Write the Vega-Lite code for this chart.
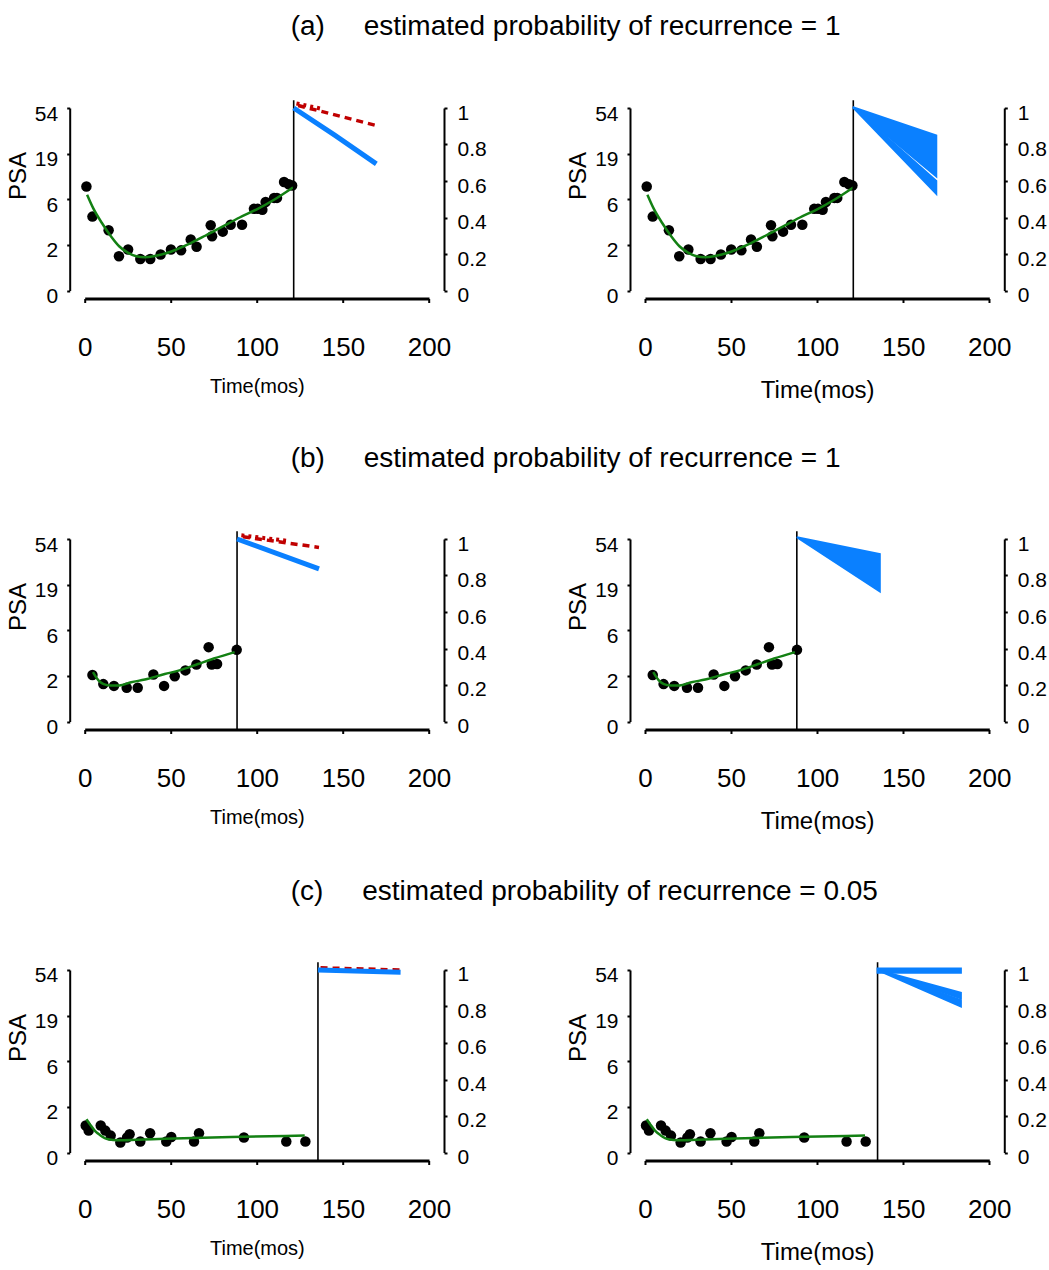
{
  "$schema": "https://vega.github.io/schema/vega-lite/v6.json",
  "background": "white",
  "padding": {"left": 6.7, "top": 13, "right": 0, "bottom": 0},
  "autosize": {"type": "pad"},
  "config": {
    "view": {"stroke": null},
    "font": "Liberation Sans",
    "axis": {"grid": false, "labelFlush": false, "labelOverlap": false, "domainColor": "black", "tickColor": "black", "labelColor": "black", "titleColor": "black", "labelFont": "Liberation Sans", "titleFont": "Liberation Sans", "titleFontWeight": "normal"},
    "title": {"font": "Liberation Sans", "fontWeight": "normal", "color": "black"}
  },
  "datasets": {
    "pts": [
      {"row": "a", "t": 1.0, "L": 2.28}, {"row": "a", "t": 4.5, "L": 1.62}, {"row": "a", "t": 13.9, "L": 1.32}, {"row": "a", "t": 19.9, "L": 0.75}, {"row": "a", "t": 25.2, "L": 0.9}, {"row": "a", "t": 32.3, "L": 0.69}, {"row": "a", "t": 38.1, "L": 0.69}, {"row": "a", "t": 44.1, "L": 0.79}, {"row": "a", "t": 50.1, "L": 0.9}, {"row": "a", "t": 56.0, "L": 0.88}, {"row": "a", "t": 61.6, "L": 1.12}, {"row": "a", "t": 65.0, "L": 0.96}, {"row": "a", "t": 73.2, "L": 1.43}, {"row": "a", "t": 74.0, "L": 1.19}, {"row": "a", "t": 80.2, "L": 1.29}, {"row": "a", "t": 84.8, "L": 1.44}, {"row": "a", "t": 91.4, "L": 1.44}, {"row": "a", "t": 98.3, "L": 1.79}, {"row": "a", "t": 100.5, "L": 1.79}, {"row": "a", "t": 103.2, "L": 1.77}, {"row": "a", "t": 105.1, "L": 1.94}, {"row": "a", "t": 110.0, "L": 2.03}, {"row": "a", "t": 111.7, "L": 2.03}, {"row": "a", "t": 115.8, "L": 2.38}, {"row": "a", "t": 118.5, "L": 2.33}, {"row": "a", "t": 120.5, "L": 2.3},
      {"row": "b", "t": 4.5, "L": 1.02}, {"row": "b", "t": 10.8, "L": 0.82}, {"row": "b", "t": 17.0, "L": 0.78}, {"row": "b", "t": 24.4, "L": 0.74}, {"row": "b", "t": 30.8, "L": 0.74}, {"row": "b", "t": 39.9, "L": 1.03}, {"row": "b", "t": 46.1, "L": 0.78}, {"row": "b", "t": 52.3, "L": 0.99}, {"row": "b", "t": 58.5, "L": 1.12}, {"row": "b", "t": 64.9, "L": 1.25}, {"row": "b", "t": 72.0, "L": 1.63}, {"row": "b", "t": 73.8, "L": 1.25}, {"row": "b", "t": 76.9, "L": 1.26}, {"row": "b", "t": 88.3, "L": 1.57},
      {"row": "c", "t": 0.6, "L": 0.59}, {"row": "c", "t": 2.3, "L": 0.48}, {"row": "c", "t": 9.3, "L": 0.59}, {"row": "c", "t": 12.0, "L": 0.48}, {"row": "c", "t": 15.1, "L": 0.37}, {"row": "c", "t": 20.7, "L": 0.22}, {"row": "c", "t": 24.6, "L": 0.33}, {"row": "c", "t": 26.1, "L": 0.4}, {"row": "c", "t": 32.3, "L": 0.24}, {"row": "c", "t": 38.0, "L": 0.42}, {"row": "c", "t": 47.4, "L": 0.24}, {"row": "c", "t": 50.3, "L": 0.34}, {"row": "c", "t": 63.5, "L": 0.24}, {"row": "c", "t": 66.4, "L": 0.42}, {"row": "c", "t": 92.5, "L": 0.33}, {"row": "c", "t": 117.1, "L": 0.24}, {"row": "c", "t": 128.2, "L": 0.24}
    ],
    "fit": [
      {"row": "a", "t": 1.4, "L": 2.1}, {"row": "a", "t": 5, "L": 1.8}, {"row": "a", "t": 10, "L": 1.48}, {"row": "a", "t": 15, "L": 1.2}, {"row": "a", "t": 20, "L": 0.97}, {"row": "a", "t": 25, "L": 0.83}, {"row": "a", "t": 30, "L": 0.75}, {"row": "a", "t": 35, "L": 0.73}, {"row": "a", "t": 40, "L": 0.75}, {"row": "a", "t": 50, "L": 0.85}, {"row": "a", "t": 60, "L": 1.01}, {"row": "a", "t": 70, "L": 1.2}, {"row": "a", "t": 80, "L": 1.4}, {"row": "a", "t": 90, "L": 1.6}, {"row": "a", "t": 100, "L": 1.78}, {"row": "a", "t": 110, "L": 1.99}, {"row": "a", "t": 121, "L": 2.26},
      {"row": "b", "t": 4.8, "L": 1.08}, {"row": "b", "t": 8, "L": 0.9}, {"row": "b", "t": 11, "L": 0.82}, {"row": "b", "t": 15, "L": 0.79}, {"row": "b", "t": 20, "L": 0.79}, {"row": "b", "t": 27, "L": 0.86}, {"row": "b", "t": 35, "L": 0.92}, {"row": "b", "t": 46.5, "L": 1.04}, {"row": "b", "t": 55, "L": 1.12}, {"row": "b", "t": 65.8, "L": 1.26}, {"row": "b", "t": 75, "L": 1.38}, {"row": "b", "t": 87.1, "L": 1.52},
      {"row": "c", "t": 1.0, "L": 0.73}, {"row": "c", "t": 3, "L": 0.62}, {"row": "c", "t": 5.8, "L": 0.48}, {"row": "c", "t": 9, "L": 0.38}, {"row": "c", "t": 13.6, "L": 0.29}, {"row": "c", "t": 19.4, "L": 0.27}, {"row": "c", "t": 30, "L": 0.28}, {"row": "c", "t": 46.5, "L": 0.3}, {"row": "c", "t": 85.2, "L": 0.34}, {"row": "c", "t": 127.8, "L": 0.37}
    ],
    "stops": [
      {"row": "a", "side": "L", "t": 121.4}, {"row": "a", "side": "R", "t": 121.0},
      {"row": "b", "side": "L", "t": 88.5}, {"row": "b", "side": "R", "t": 88.2},
      {"row": "c", "side": "L", "t": 135.5}, {"row": "c", "side": "R", "t": 135.1}
    ],
    "prob": [
      {"row": "a", "id": "a-blue", "kind": "blue", "t": 121.4, "p": 1.0}, {"row": "a", "id": "a-blue", "kind": "blue", "t": 145, "p": 0.853}, {"row": "a", "id": "a-blue", "kind": "blue", "t": 169.4, "p": 0.694},
      {"row": "a", "id": "a-red1", "kind": "red1", "t": 124, "p": 1.014}, {"row": "a", "id": "a-red1", "kind": "red1", "t": 169.4, "p": 0.904},
      {"row": "a", "id": "a-red2", "kind": "red2", "t": 123, "p": 1.025}, {"row": "a", "id": "a-red2", "kind": "red2", "t": 138, "p": 0.995},
      {"row": "b", "id": "b-blue", "kind": "blue", "t": 88.5, "p": 1.0}, {"row": "b", "id": "b-blue", "kind": "blue", "t": 136.1, "p": 0.836},
      {"row": "b", "id": "b-red1", "kind": "red1", "t": 92, "p": 1.012}, {"row": "b", "id": "b-red1", "kind": "red1", "t": 136.1, "p": 0.954},
      {"row": "b", "id": "b-red2", "kind": "red2", "t": 91, "p": 1.02}, {"row": "b", "id": "b-red2", "kind": "red2", "t": 118, "p": 0.99},
      {"row": "c", "id": "c-red1", "kind": "red1", "t": 137, "p": 1.012}, {"row": "c", "id": "c-red1", "kind": "red1", "t": 183.5, "p": 1.0},
      {"row": "c", "id": "c-blue", "kind": "blue", "t": 135.5, "p": 1.0}, {"row": "c", "id": "c-blue", "kind": "blue", "t": 183.5, "p": 0.988}
    ],
    "fan": [
      {"row": "a", "id": "a1", "t": 120.8, "lo": 1.004, "hi": 1.004}, {"row": "a", "id": "a1", "t": 169.2, "lo": 0.625, "hi": 0.849},
      {"row": "a", "id": "a2", "t": 120.8, "lo": 1.004, "hi": 1.004}, {"row": "a", "id": "a2", "t": 169.2, "lo": 0.53, "hi": 0.6},
      {"row": "b", "id": "b1", "t": 88.2, "lo": 1.01, "hi": 1.01}, {"row": "b", "id": "b1", "t": 136.4, "lo": 0.713, "hi": 0.918},
      {"row": "c", "id": "c1", "t": 135.1, "lo": 0.985, "hi": 1.008}, {"row": "c", "id": "c1", "t": 183.5, "lo": 0.985, "hi": 1.008},
      {"row": "c", "id": "c2", "t": 135.1, "lo": 1.0, "hi": 1.0}, {"row": "c", "id": "c2", "t": 183.5, "lo": 0.845, "hi": 0.875},
      {"row": "c", "id": "c3", "t": 135.1, "lo": 1.0, "hi": 1.0}, {"row": "c", "id": "c3", "t": 183.5, "lo": 0.8, "hi": 0.835}
    ]
  },
  "vconcat": [
    {
      "hconcat": [
        {
          "width": 344.3, "height": 182.5,
          "title": {"text": "(a)\u00a0\u00a0\u00a0\u00a0\u00a0estimated probability of recurrence = 1", "anchor": "start", "frame": "group", "dx": 206, "fontSize": 28, "offset": 54},
          "encoding": {"x": {"field": "t", "type": "quantitative", "scale": {"domain": [0, 200], "nice": false}, "axis": {"values": [0, 50, 100, 150, 200], "title": "Time(mos)", "offset": 8, "domainWidth": 3, "tickSize": 4, "tickWidth": 2, "labelFontSize": 26, "labelPadding": 32, "titleFontSize": 20, "titlePadding": 16}}},
          "layer": [
            {"layer": [
              {"data": {"name": "pts"}, "transform": [{"filter": "datum.row == 'a'"}], "mark": {"type": "point", "filled": true, "shape": "circle", "color": "black", "opacity": 1, "size": 110}, "encoding": {"y": {"field": "L", "type": "quantitative", "scale": {"domain": [0, 4], "nice": false}, "axis": {"values": [0, 1, 2, 3, 4], "labelExpr": "datum.value == 0 ? '0' : datum.value == 1 ? '2' : datum.value == 2 ? '6' : datum.value == 3 ? '19' : '54'", "title": "PSA", "offset": 15, "domainWidth": 2, "tickSize": 3, "tickWidth": 2, "labelFontSize": 21, "labelPadding": 9, "labelOffset": 6, "titleFontSize": 24, "titleX": -39, "titleY": 67.5, "titleAngle": -90}}}},
              {"data": {"name": "fit"}, "transform": [{"filter": "datum.row == 'a'"}], "mark": {"type": "line", "color": "#138013", "strokeWidth": 2.5, "interpolate": "monotone"}, "encoding": {"y": {"field": "L", "type": "quantitative"}}},
              {"data": {"name": "stops"}, "transform": [{"filter": "datum.row == 'a' && datum.side == 'L'"}], "mark": {"type": "rule", "color": "black", "strokeWidth": 1.6}, "encoding": {"y": {"datum": -0.18, "type": "quantitative"}, "y2": {"datum": 4.17}}}
            ]},
            {"layer": [
              {"data": {"name": "prob"}, "transform": [{"filter": "datum.row == 'a' && datum.kind == 'red1'"}], "mark": {"type": "line", "color": "#c00000", "strokeWidth": 3.5, "strokeDash": [7, 5]}, "encoding": {"y": {"field": "p", "type": "quantitative", "scale": {"domain": [0, 1], "nice": false}, "axis": {"orient": "right", "values": [0, 0.2, 0.4, 0.6, 0.8, 1], "format": "~g", "title": null, "offset": 15, "domainWidth": 2, "tickSize": 3, "tickWidth": 2, "labelFontSize": 21, "labelPadding": 10, "labelOffset": 5}}}},
              {"data": {"name": "prob"}, "transform": [{"filter": "datum.row == 'a' && datum.kind == 'red2'"}], "mark": {"type": "line", "color": "#c00000", "strokeWidth": 4, "strokeDash": [3, 4]}, "encoding": {"y": {"field": "p", "type": "quantitative", "axis": {"orient": "right", "values": [0, 0.2, 0.4, 0.6, 0.8, 1], "format": "~g", "title": null, "offset": 15, "domainWidth": 2, "tickSize": 3, "tickWidth": 2, "labelFontSize": 21, "labelPadding": 10, "labelOffset": 5}}}},
              {"data": {"name": "prob"}, "transform": [{"filter": "datum.row == 'a' && datum.kind == 'blue'"}], "mark": {"type": "line", "color": "#0a80ff", "strokeWidth": 5}, "encoding": {"y": {"field": "p", "type": "quantitative", "axis": {"orient": "right", "values": [0, 0.2, 0.4, 0.6, 0.8, 1], "format": "~g", "title": null, "offset": 15, "domainWidth": 2, "tickSize": 3, "tickWidth": 2, "labelFontSize": 21, "labelPadding": 10, "labelOffset": 5}}}}
            ]}
          ],
          "resolve": {"scale": {"y": "independent"}}
        },
        {
          "width": 344.3, "height": 182.5,
          "encoding": {"x": {"field": "t", "type": "quantitative", "scale": {"domain": [0, 200], "nice": false}, "axis": {"values": [0, 50, 100, 150, 200], "title": "Time(mos)", "offset": 8, "domainWidth": 3, "tickSize": 4, "tickWidth": 2, "labelFontSize": 26, "labelPadding": 32, "titleFontSize": 24, "titlePadding": 18}}},
          "layer": [
            {"layer": [
              {"data": {"name": "pts"}, "transform": [{"filter": "datum.row == 'a'"}], "mark": {"type": "point", "filled": true, "shape": "circle", "color": "black", "opacity": 1, "size": 110}, "encoding": {"y": {"field": "L", "type": "quantitative", "scale": {"domain": [0, 4], "nice": false}, "axis": {"values": [0, 1, 2, 3, 4], "labelExpr": "datum.value == 0 ? '0' : datum.value == 1 ? '2' : datum.value == 2 ? '6' : datum.value == 3 ? '19' : '54'", "title": "PSA", "offset": 15, "domainWidth": 2, "tickSize": 3, "tickWidth": 2, "labelFontSize": 21, "labelPadding": 9, "labelOffset": 6, "titleFontSize": 24, "titleX": -39, "titleY": 67.5, "titleAngle": -90}}}},
              {"data": {"name": "fit"}, "transform": [{"filter": "datum.row == 'a'"}], "mark": {"type": "line", "color": "#138013", "strokeWidth": 2.5, "interpolate": "monotone"}, "encoding": {"y": {"field": "L", "type": "quantitative"}}},
              {"data": {"name": "stops"}, "transform": [{"filter": "datum.row == 'a' && datum.side == 'R'"}], "mark": {"type": "rule", "color": "black", "strokeWidth": 1.6}, "encoding": {"y": {"datum": -0.18, "type": "quantitative"}, "y2": {"datum": 4.17}}}
            ]},
            {"layer": [
              {"data": {"name": "fan"}, "transform": [{"filter": "datum.row == 'a'"}], "mark": {"type": "area", "color": "#0a80ff", "stroke": "#0a80ff", "strokeWidth": 2, "opacity": 1}, "encoding": {"detail": {"field": "id"}, "y": {"field": "lo", "type": "quantitative", "scale": {"domain": [0, 1], "nice": false}, "axis": {"orient": "right", "values": [0, 0.2, 0.4, 0.6, 0.8, 1], "format": "~g", "title": null, "offset": 15, "domainWidth": 2, "tickSize": 3, "tickWidth": 2, "labelFontSize": 21, "labelPadding": 10, "labelOffset": 5}}, "y2": {"field": "hi"}}}
            ]}
          ],
          "resolve": {"scale": {"y": "independent"}}
        }
      ],
      "spacing": 215.3, "bounds": "flush"
    },
    {
      "hconcat": [
        {
          "width": 344.3, "height": 182.5,
          "title": {"text": "(b)\u00a0\u00a0\u00a0\u00a0\u00a0estimated probability of recurrence = 1", "anchor": "start", "frame": "group", "dx": 206, "fontSize": 28, "offset": 54},
          "encoding": {"x": {"field": "t", "type": "quantitative", "scale": {"domain": [0, 200], "nice": false}, "axis": {"values": [0, 50, 100, 150, 200], "title": "Time(mos)", "offset": 8, "domainWidth": 3, "tickSize": 4, "tickWidth": 2, "labelFontSize": 26, "labelPadding": 32, "titleFontSize": 20, "titlePadding": 16}}},
          "layer": [
            {"layer": [
              {"data": {"name": "pts"}, "transform": [{"filter": "datum.row == 'b'"}], "mark": {"type": "point", "filled": true, "shape": "circle", "color": "black", "opacity": 1, "size": 110}, "encoding": {"y": {"field": "L", "type": "quantitative", "scale": {"domain": [0, 4], "nice": false}, "axis": {"values": [0, 1, 2, 3, 4], "labelExpr": "datum.value == 0 ? '0' : datum.value == 1 ? '2' : datum.value == 2 ? '6' : datum.value == 3 ? '19' : '54'", "title": "PSA", "offset": 15, "domainWidth": 2, "tickSize": 3, "tickWidth": 2, "labelFontSize": 21, "labelPadding": 9, "labelOffset": 6, "titleFontSize": 24, "titleX": -39, "titleY": 67.5, "titleAngle": -90}}}},
              {"data": {"name": "fit"}, "transform": [{"filter": "datum.row == 'b'"}], "mark": {"type": "line", "color": "#138013", "strokeWidth": 2.5, "interpolate": "monotone"}, "encoding": {"y": {"field": "L", "type": "quantitative"}}},
              {"data": {"name": "stops"}, "transform": [{"filter": "datum.row == 'b' && datum.side == 'L'"}], "mark": {"type": "rule", "color": "black", "strokeWidth": 1.6}, "encoding": {"y": {"datum": -0.18, "type": "quantitative"}, "y2": {"datum": 4.17}}}
            ]},
            {"layer": [
              {"data": {"name": "prob"}, "transform": [{"filter": "datum.row == 'b' && datum.kind == 'red1'"}], "mark": {"type": "line", "color": "#c00000", "strokeWidth": 3.5, "strokeDash": [7, 5]}, "encoding": {"y": {"field": "p", "type": "quantitative", "scale": {"domain": [0, 1], "nice": false}, "axis": {"orient": "right", "values": [0, 0.2, 0.4, 0.6, 0.8, 1], "format": "~g", "title": null, "offset": 15, "domainWidth": 2, "tickSize": 3, "tickWidth": 2, "labelFontSize": 21, "labelPadding": 10, "labelOffset": 5}}}},
              {"data": {"name": "prob"}, "transform": [{"filter": "datum.row == 'b' && datum.kind == 'red2'"}], "mark": {"type": "line", "color": "#c00000", "strokeWidth": 4, "strokeDash": [3, 4]}, "encoding": {"y": {"field": "p", "type": "quantitative", "axis": {"orient": "right", "values": [0, 0.2, 0.4, 0.6, 0.8, 1], "format": "~g", "title": null, "offset": 15, "domainWidth": 2, "tickSize": 3, "tickWidth": 2, "labelFontSize": 21, "labelPadding": 10, "labelOffset": 5}}}},
              {"data": {"name": "prob"}, "transform": [{"filter": "datum.row == 'b' && datum.kind == 'blue'"}], "mark": {"type": "line", "color": "#0a80ff", "strokeWidth": 5}, "encoding": {"y": {"field": "p", "type": "quantitative", "axis": {"orient": "right", "values": [0, 0.2, 0.4, 0.6, 0.8, 1], "format": "~g", "title": null, "offset": 15, "domainWidth": 2, "tickSize": 3, "tickWidth": 2, "labelFontSize": 21, "labelPadding": 10, "labelOffset": 5}}}}
            ]}
          ],
          "resolve": {"scale": {"y": "independent"}}
        },
        {
          "width": 344.3, "height": 182.5,
          "encoding": {"x": {"field": "t", "type": "quantitative", "scale": {"domain": [0, 200], "nice": false}, "axis": {"values": [0, 50, 100, 150, 200], "title": "Time(mos)", "offset": 8, "domainWidth": 3, "tickSize": 4, "tickWidth": 2, "labelFontSize": 26, "labelPadding": 32, "titleFontSize": 24, "titlePadding": 18}}},
          "layer": [
            {"layer": [
              {"data": {"name": "pts"}, "transform": [{"filter": "datum.row == 'b'"}], "mark": {"type": "point", "filled": true, "shape": "circle", "color": "black", "opacity": 1, "size": 110}, "encoding": {"y": {"field": "L", "type": "quantitative", "scale": {"domain": [0, 4], "nice": false}, "axis": {"values": [0, 1, 2, 3, 4], "labelExpr": "datum.value == 0 ? '0' : datum.value == 1 ? '2' : datum.value == 2 ? '6' : datum.value == 3 ? '19' : '54'", "title": "PSA", "offset": 15, "domainWidth": 2, "tickSize": 3, "tickWidth": 2, "labelFontSize": 21, "labelPadding": 9, "labelOffset": 6, "titleFontSize": 24, "titleX": -39, "titleY": 67.5, "titleAngle": -90}}}},
              {"data": {"name": "fit"}, "transform": [{"filter": "datum.row == 'b'"}], "mark": {"type": "line", "color": "#138013", "strokeWidth": 2.5, "interpolate": "monotone"}, "encoding": {"y": {"field": "L", "type": "quantitative"}}},
              {"data": {"name": "stops"}, "transform": [{"filter": "datum.row == 'b' && datum.side == 'R'"}], "mark": {"type": "rule", "color": "black", "strokeWidth": 1.6}, "encoding": {"y": {"datum": -0.18, "type": "quantitative"}, "y2": {"datum": 4.17}}}
            ]},
            {"layer": [
              {"data": {"name": "fan"}, "transform": [{"filter": "datum.row == 'b'"}], "mark": {"type": "area", "color": "#0a80ff", "stroke": "#0a80ff", "strokeWidth": 2, "opacity": 1}, "encoding": {"detail": {"field": "id"}, "y": {"field": "lo", "type": "quantitative", "scale": {"domain": [0, 1], "nice": false}, "axis": {"orient": "right", "values": [0, 0.2, 0.4, 0.6, 0.8, 1], "format": "~g", "title": null, "offset": 15, "domainWidth": 2, "tickSize": 3, "tickWidth": 2, "labelFontSize": 21, "labelPadding": 10, "labelOffset": 5}}, "y2": {"field": "hi"}}}
            ]}
          ],
          "resolve": {"scale": {"y": "independent"}}
        }
      ],
      "spacing": 215.3, "bounds": "flush"
    },
    {
      "hconcat": [
        {
          "width": 344.3, "height": 182.5,
          "title": {"text": "(c)\u00a0\u00a0\u00a0\u00a0\u00a0estimated probability of recurrence = 0.05", "anchor": "start", "frame": "group", "dx": 206, "fontSize": 28, "offset": 54},
          "encoding": {"x": {"field": "t", "type": "quantitative", "scale": {"domain": [0, 200], "nice": false}, "axis": {"values": [0, 50, 100, 150, 200], "title": "Time(mos)", "offset": 8, "domainWidth": 3, "tickSize": 4, "tickWidth": 2, "labelFontSize": 26, "labelPadding": 32, "titleFontSize": 20, "titlePadding": 16}}},
          "layer": [
            {"layer": [
              {"data": {"name": "pts"}, "transform": [{"filter": "datum.row == 'c'"}], "mark": {"type": "point", "filled": true, "shape": "circle", "color": "black", "opacity": 1, "size": 110}, "encoding": {"y": {"field": "L", "type": "quantitative", "scale": {"domain": [0, 4], "nice": false}, "axis": {"values": [0, 1, 2, 3, 4], "labelExpr": "datum.value == 0 ? '0' : datum.value == 1 ? '2' : datum.value == 2 ? '6' : datum.value == 3 ? '19' : '54'", "title": "PSA", "offset": 15, "domainWidth": 2, "tickSize": 3, "tickWidth": 2, "labelFontSize": 21, "labelPadding": 9, "labelOffset": 6, "titleFontSize": 24, "titleX": -39, "titleY": 67.5, "titleAngle": -90}}}},
              {"data": {"name": "fit"}, "transform": [{"filter": "datum.row == 'c'"}], "mark": {"type": "line", "color": "#138013", "strokeWidth": 2.5, "interpolate": "monotone"}, "encoding": {"y": {"field": "L", "type": "quantitative"}}},
              {"data": {"name": "stops"}, "transform": [{"filter": "datum.row == 'c' && datum.side == 'L'"}], "mark": {"type": "rule", "color": "black", "strokeWidth": 1.6}, "encoding": {"y": {"datum": -0.18, "type": "quantitative"}, "y2": {"datum": 4.17}}}
            ]},
            {"layer": [
              {"data": {"name": "prob"}, "transform": [{"filter": "datum.row == 'c' && datum.kind == 'red1'"}], "mark": {"type": "line", "color": "#c00000", "strokeWidth": 3.5, "strokeDash": [7, 5]}, "encoding": {"y": {"field": "p", "type": "quantitative", "scale": {"domain": [0, 1], "nice": false}, "axis": {"orient": "right", "values": [0, 0.2, 0.4, 0.6, 0.8, 1], "format": "~g", "title": null, "offset": 15, "domainWidth": 2, "tickSize": 3, "tickWidth": 2, "labelFontSize": 21, "labelPadding": 10, "labelOffset": 5}}}},
              {"data": {"name": "prob"}, "transform": [{"filter": "datum.row == 'c' && datum.kind == 'blue'"}], "mark": {"type": "line", "color": "#0a80ff", "strokeWidth": 5}, "encoding": {"y": {"field": "p", "type": "quantitative", "axis": {"orient": "right", "values": [0, 0.2, 0.4, 0.6, 0.8, 1], "format": "~g", "title": null, "offset": 15, "domainWidth": 2, "tickSize": 3, "tickWidth": 2, "labelFontSize": 21, "labelPadding": 10, "labelOffset": 5}}}}
            ]}
          ],
          "resolve": {"scale": {"y": "independent"}}
        },
        {
          "width": 344.3, "height": 182.5,
          "encoding": {"x": {"field": "t", "type": "quantitative", "scale": {"domain": [0, 200], "nice": false}, "axis": {"values": [0, 50, 100, 150, 200], "title": "Time(mos)", "offset": 8, "domainWidth": 3, "tickSize": 4, "tickWidth": 2, "labelFontSize": 26, "labelPadding": 32, "titleFontSize": 24, "titlePadding": 18}}},
          "layer": [
            {"layer": [
              {"data": {"name": "pts"}, "transform": [{"filter": "datum.row == 'c'"}], "mark": {"type": "point", "filled": true, "shape": "circle", "color": "black", "opacity": 1, "size": 110}, "encoding": {"y": {"field": "L", "type": "quantitative", "scale": {"domain": [0, 4], "nice": false}, "axis": {"values": [0, 1, 2, 3, 4], "labelExpr": "datum.value == 0 ? '0' : datum.value == 1 ? '2' : datum.value == 2 ? '6' : datum.value == 3 ? '19' : '54'", "title": "PSA", "offset": 15, "domainWidth": 2, "tickSize": 3, "tickWidth": 2, "labelFontSize": 21, "labelPadding": 9, "labelOffset": 6, "titleFontSize": 24, "titleX": -39, "titleY": 67.5, "titleAngle": -90}}}},
              {"data": {"name": "fit"}, "transform": [{"filter": "datum.row == 'c'"}], "mark": {"type": "line", "color": "#138013", "strokeWidth": 2.5, "interpolate": "monotone"}, "encoding": {"y": {"field": "L", "type": "quantitative"}}},
              {"data": {"name": "stops"}, "transform": [{"filter": "datum.row == 'c' && datum.side == 'R'"}], "mark": {"type": "rule", "color": "black", "strokeWidth": 1.6}, "encoding": {"y": {"datum": -0.18, "type": "quantitative"}, "y2": {"datum": 4.17}}}
            ]},
            {"layer": [
              {"data": {"name": "fan"}, "transform": [{"filter": "datum.row == 'c'"}], "mark": {"type": "area", "color": "#0a80ff", "stroke": "#0a80ff", "strokeWidth": 2, "opacity": 1}, "encoding": {"detail": {"field": "id"}, "y": {"field": "lo", "type": "quantitative", "scale": {"domain": [0, 1], "nice": false}, "axis": {"orient": "right", "values": [0, 0.2, 0.4, 0.6, 0.8, 1], "format": "~g", "title": null, "offset": 15, "domainWidth": 2, "tickSize": 3, "tickWidth": 2, "labelFontSize": 21, "labelPadding": 10, "labelOffset": 5}}, "y2": {"field": "hi"}}}
            ]}
          ],
          "resolve": {"scale": {"y": "independent"}}
        }
      ],
      "spacing": 215.3, "bounds": "flush"
    }
  ],
  "spacing": 431,
  "bounds": "flush"
}
